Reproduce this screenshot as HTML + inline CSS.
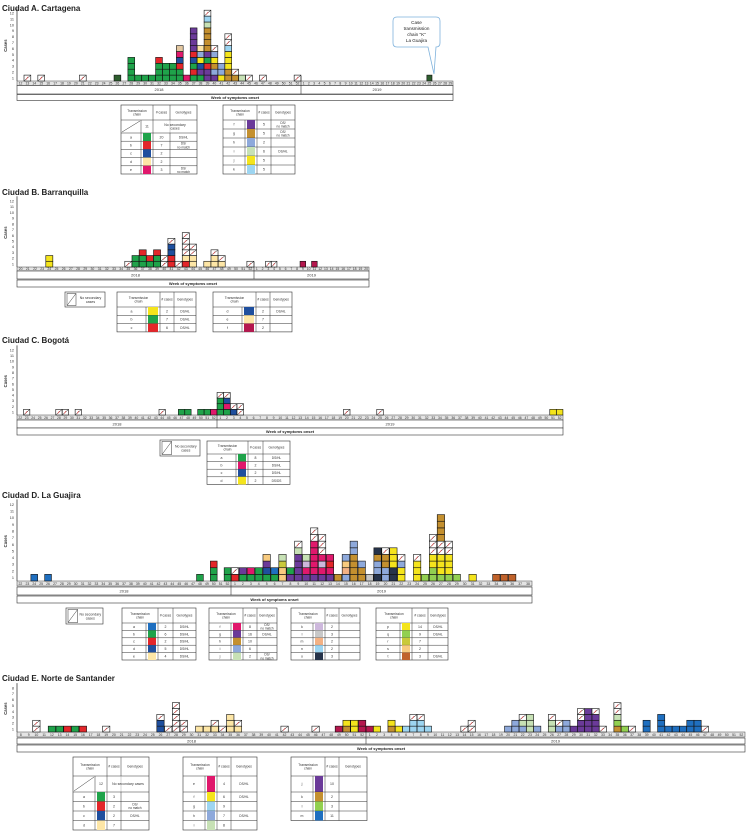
<!DOCTYPE html>
<html><head><meta charset="utf-8"><title>Transmission chains by city</title>
<style>
html,body{margin:0;padding:0;background:#fff;}
svg{display:block;font-family:"Liberation Sans",Arial,sans-serif;}
</style></head>
<body>
<svg id="fig" width="746" height="831" viewBox="0 0 746 831" xmlns="http://www.w3.org/2000/svg">
<rect x="0" y="0" width="746" height="831" fill="#fff"/>
<g>
<path d="M397 17 H436 Q440 17 440 21 V43 Q440 47 436 47 H436 L434 74 L428 47 H397 Q393 47 393 43 V21 Q393 17 397 17 Z" fill="#fff" stroke="#7fb2dc" stroke-width="0.8"/>
<text x="416.5" y="24" font-size="4.6" text-anchor="middle" fill="#222">Case</text>
<text x="416.5" y="30" font-size="4.6" text-anchor="middle" fill="#222">transmission</text>
<text x="416.5" y="36" font-size="4.6" text-anchor="middle" fill="#222">chain "K"</text>
<text x="416.5" y="42" font-size="4.6" text-anchor="middle" fill="#222">La Guajira</text>
</g>
</svg>
<script>
const NS='http://www.w3.org/2000/svg';
const svg=document.getElementById('fig');
const COL={g:'#1fa34a',G:'#2e5e2e',r:'#e3262a',b:'#1f4f9e',B:'#1f6fc0',d:'#fde6a6',p:'#e0186c',c:'#b5174e',f:'#6b3a99',o:'#c4902f',h:'#8ea9db',i:'#c7e1b5',y:'#f4e41c',k:'#9dd5f1',n:'#26334a',s:'#c0622b',l:'#cdb8dc',e:'#c8c8c8',m:'#f4b183',q:'#92d050',v:'#c9c93a',w:'#f8cb7f',t:'#e3c7a0'};
function rng(a,b){const r=[];for(let i=a;i<=b;i++)r.push(String(i));return r;}
function mk(tag,attrs,parent){const e=document.createElementNS(NS,tag);for(const k in attrs)e.setAttribute(k,attrs[k]);(parent||svg).appendChild(e);return e;}

// ---------- Panel A data ----------
const aWeeks18=rng(12,52);
const aWeeks19=rng(1,29);
const aStackYear=[2018,2018,2018,2018,2018,2018,2018,2018,2018,2018,2018,2018,2018,2018,2018,2018,2018,2018,2018,2018,2018,2018,2018,2018,2019];
const aStackWeek=[13,15,21,26,28,29,30,31,32,33,34,35,36,37,38,39,40,41,42,43,44,45,47,52,25];
const aStackCells=['x','x','x','G','gggg','g','g','g','gggr','ggg','ggg','ggrbpt','p','grgbrffff','gfbyhd','ffrgfooooikx','fhoyhx','yhh','ooyyykxx','ox','i','x','x','x','G'];
// ---------- Panel B data ----------
const bWeeks18=rng(20,52);
const bWeeks19=rng(1,20);
const bStackYear=[2018,2018,2018,2018,2018,2018,2018,2018,2018,2018,2018,2018,2018,2018,2018,2019,2019,2019,2019];
const bStackWeek=[24,35,36,37,38,39,40,41,42,43,44,46,47,48,52,3,4,9,11];
const bStackCells=['yy','x','gg','ggr','gr','ggr','xx','rrbbx','x','rdxxxx','ddxx','d','ddx','dx','x','x','x','c','c'];
// ---------- Panel C data ----------
const cWeeks18=rng(22,52);
const cWeeks19=rng(1,52);
const cStackYear=[2018,2018,2018,2018,2018,2018,2018,2018,2018,2018,2019,2019,2019,2019,2019,2019,2019,2019];
const cStackWeek=[23,28,29,31,44,47,48,50,51,52,1,2,3,4,20,25,51,52];
const cStackCells=['x','x','x','x','x','g','g','g','g','p','gggx','gpbx','bx','xx','x','x','y','y'];
// ---------- Panel D data ----------
const dWeeks18=rng(22,52);
const dWeeks19=rng(1,38);
const dStackYear=[2018,2018,2018,2018,2018,2019,2019,2019,2019,2019,2019,2019,2019,2019,2019,2019,2019,2019,2019,2019,2019,2019,2019,2019,2019,2019,2019,2019,2019,2019,2019,2019,2019,2019,2019,2019,2019];
const dStackWeek=[24,26,48,50,52,1,2,3,4,5,6,7,8,9,10,11,12,13,14,15,16,17,18,19,20,21,22,24,25,26,27,28,29,31,34,35,36];
const dStackCells=['B','B','g','ggr','gg','rx','gf','gp','gg','gbfw','gB','wwvi','fg','ffffix','fpli','fpppppxx','fplpxxx','fprp','o','hmwh','oooohh','ooh','e','nhhon','hhoox','nnyyy','yyhx','yyyx','q','qqyyxxx','qyyyxxoooo','qyyyxx','q','y','s','s','s'];
// ---------- Panel E data ----------
const eWeeks18=rng(8,52);
const eWeeks19=rng(1,52);
const eStackYear=[2018,2018,2018,2018,2018,2018,2018,2018,2018,2018,2018,2018,2018,2018,2018,2018,2018,2018,2018,2018,2018,2018,2018,
2019,2019,2019,2019,2019,2019,2019,2019,2019,2019,2019,2019,2019,2019,2019,2019,2019,2019,2019,2019,2019,2019,2019,2019,2019,2019,2019,2019,2019,2019,2019,2019];
const eStackWeek=[10,12,13,14,15,16,19,26,27,28,29,31,32,33,34,35,36,42,46,49,50,51,52,
1,2,4,5,6,7,8,9,14,15,20,21,22,23,24,26,27,28,29,30,31,32,33,35,36,37,39,41,42,43,44,45,46,47];
const eStackCells=['xx','g','g','r','g','r','x','bbx','x','xxxxx','xx','d','d','dx','x','ddd','dx','x','x','c','oy','yy','cc',
'c','y','oy','y','k','kkx','kkx','k','x','xx','h','hh','hix','iii','h','iix','hx','hh','f','ffxx','ffff','fffx','x','oqixx','q','x','BB','BBB','B','B','B','BB','BB','x'];

const panels=[
 {key:'a',title:'Ciudad A. Cartagena',ty:11,x0:17,xb:301,x1:453,base:81,unit:5.9,ymax:12,tk:[81,85.5],yr:[85.5,94],wk:[94.5,100.5],w18:aWeeks18,w19:aWeeks19,sy:aStackYear,sw:aStackWeek,sc:aStackCells},
 {key:'b',title:'Ciudad B. Barranquilla',ty:195,x0:17,xb:254,x1:369,base:267,unit:5.73,ymax:12,tk:[267,271],yr:[271,279],wk:[280,287],w18:bWeeks18,w19:bWeeks19,sy:bStackYear,sw:bStackWeek,sc:bStackCells},
 {key:'c',title:'Ciudad C. Bogotá',ty:343,x0:17,xb:217,x1:563,base:415,unit:5.64,ymax:12,tk:[415,420],yr:[420,428],wk:[428,435],w18:cWeeks18,w19:cWeeks19,sy:cStackYear,sw:cStackWeek,sc:cStackCells},
 {key:'d',title:'Ciudad D. La Guajira',ty:498,x0:17,xb:231,x1:532,base:581,unit:6.64,ymax:12,tk:[581,586],yr:[587,595],wk:[596,603],w18:dWeeks18,w19:dWeeks19,sy:dStackYear,sw:dStackWeek,sc:dStackCells},
 {key:'e',title:'Ciudad E. Norte de Santander',ty:681,x0:17,xb:366,x1:745,base:732,unit:5.86,ymax:8,tk:[732,737],yr:[738,744],wk:[745,752],w18:eWeeks18,w19:eWeeks19,sy:eStackYear,sw:eStackWeek,sc:eStackCells}
];

function drawCell(g,x,y,w,h,code){
  if(code==='x'){
    const r=mk('rect',{x:x,y:y,width:w,height:h,fill:'#fff',stroke:'#111','stroke-width':0.6},g);
    
    
    const l=mk('line',{x1:x+0.4,y1:y+h-0.4,x2:x+w-0.4,y2:y+0.4,stroke:'#111','stroke-width':0.5},g);
    
    
    const l2=mk('line',{x1:x+w*0.3,y1:y+h*0.75,x2:x+w*0.6,y2:y+h*0.3,stroke:'#d33','stroke-width':0.6},g);
    
    
  }else{
    const r=mk('rect',{x:x,y:y,width:w,height:h,fill:COL[code]||'#999',stroke:'#111','stroke-width':0.6},g);
    
    
  }
}

panels.forEach(P=>{
  const g=mk('g',{});
  
  
  const t=mk('text',{x:2,y:P.ty,'font-size':8,'font-weight':'bold',fill:'#222'},g);
  t.textContent=P.title;
  
  
  const cw18=(P.xb-P.x0)/P.w18.length, cw19=(P.x1-P.xb)/P.w19.length;
  const xOf=(yr,wk)=>yr===2018?P.x0+(P.w18.indexOf(String(wk))+0.5)*cw18:P.xb+(P.w19.indexOf(String(wk))+0.5)*cw19;
  const yOf=v=>P.base-v*P.unit;
  const ax=mk('line',{x1:P.x0,y1:P.base,x2:P.x0,y2:yOf(P.ymax)-2,stroke:'#222','stroke-width':0.7},g);
  
  
  for(let v=1;v<=P.ymax;v++){
    const tl=mk('text',{x:P.x0-3,y:yOf(v-0.5)+1.3,'font-size':3.8,'text-anchor':'end',fill:'#333'},g);
    tl.textContent=v;
    
    
  }
  const yt=mk('text',{x:0,y:0,'font-size':4.2,'font-weight':'bold','text-anchor':'middle',fill:'#333',transform:`translate(7,${(P.base+yOf(P.ymax))/2}) rotate(-90)`},g);
  yt.textContent='Cases';
  
  
  const tr=mk('rect',{x:P.x0,y:P.tk[0],width:P.x1-P.x0,height:P.tk[1]-P.tk[0],fill:'#e4e4e4',stroke:'#444','stroke-width':0.5},g);
  
  
  const fs18=Math.min(3.4,cw18*0.55+0.6), fs19=Math.min(3.4,cw19*0.55+0.6);
  P.w18.forEach(w=>{const tx=mk('text',{x:xOf(2018,w),y:P.tk[1]-1,'font-size':fs18,'text-anchor':'middle',fill:'#333'},g);tx.textContent=w;
    
    });
  P.w19.forEach(w=>{const tx=mk('text',{x:xOf(2019,w),y:P.tk[1]-1,'font-size':fs19,'text-anchor':'middle',fill:'#333'},g);tx.textContent=w;
    
    });
  const yr=mk('rect',{x:P.x0,y:P.yr[0],width:P.x1-P.x0,height:P.yr[1]-P.yr[0],fill:'#fff',stroke:'#333','stroke-width':0.6},g);
  
  
  const dv=mk('line',{x1:P.xb,y1:P.tk[0]-5,x2:P.xb,y2:P.yr[1],stroke:'#333','stroke-width':0.6},g);
  
  
  [['2018',(P.x0+P.xb)/2],['2019',(P.xb+P.x1)/2]].forEach(([s,x])=>{
    const tx=mk('text',{x:x,y:(P.yr[0]+P.yr[1])/2+1.4,'font-size':4,'text-anchor':'middle',fill:'#333'},g);tx.textContent=s;
    
    
  });
  const wr=mk('rect',{x:P.x0,y:P.wk[0],width:P.x1-P.x0,height:P.wk[1]-P.wk[0],fill:'#fff',stroke:'#333','stroke-width':0.6},g);
  
  
  const wt=mk('text',{x:(P.x0+P.x1)/2,y:(P.wk[0]+P.wk[1])/2+1.4,'font-size':4,'font-weight':'bold','text-anchor':'middle',fill:'#222'},g);
  wt.textContent='Week of symptoms onset';
  
  
  for(let j=0;j<P.sc.length;j++){
    const sg=mk('g',{},g);
    
    
    const xc=xOf(P.sy[j],P.sw[j]);
    const bw=Math.min(P.sy[j]===2018?cw18:cw19,7.5)*0.98;
    const cells=P.sc[j];
    for(let k=0;k<cells.length;k++){
      drawCell(sg,xc-bw/2,yOf(k+1),bw,P.unit,cells[k]);
    }
  }
});

function hatchBox(x,y,w,h){
  const g=mk('g',{});
  
  
  const r=mk('rect',{x:x,y:y,width:w,height:h,fill:'#fff',stroke:'#333','stroke-width':0.6},g);
  
  
  const sw=h*0.6;
  const s=mk('rect',{x:x+2,y:y+1.5,width:sw,height:h-3,fill:'#fff',stroke:'#333','stroke-width':0.5},g);
  
  
  const l=mk('line',{x1:x+2,y1:y+h-1.5,x2:x+2+sw,y2:y+1.5,stroke:'#333','stroke-width':0.5},g);
  
  
  const t1=mk('text',{x:x+(w+sw)/2+1,y:y+h/2-0.5,'font-size':3.5,'text-anchor':'middle',fill:'#333'},g);t1.textContent='No secondary';
  
  
  const t2=mk('text',{x:x+(w+sw)/2+1,y:y+h/2+3.5,'font-size':3.5,'text-anchor':'middle',fill:'#333'},g);t2.textContent='cases';
  
  
}
function txt(g,x,y,s,fs){const t=mk('text',{x:x,y:y,'font-size':fs||3.5,'text-anchor':'middle',fill:'#333'},g);t.textContent=s;
  
  return t;}
function multi(g,x,yc,s,fs){const parts=s.split('|');const lh=(fs||3.5)*1.1;parts.forEach((p,i)=>txt(g,x,yc+1.2+(i-(parts.length-1)/2)*lh,p,fs));}
function table(x,y,cw,headH,rows){
  const g=mk('g',{});
  
  
  const W=cw[0]+cw[1]+cw[2]+cw[3];
  const cx=[x,x+cw[0],x+cw[0]+cw[1],x+cw[0]+cw[1]+cw[2],x+W];
  let H=headH;rows.forEach(r=>H+=r.h);
  const o=mk('rect',{x:x,y:y,width:W,height:H,fill:'#fff',stroke:'#333','stroke-width':0.6},g);
  
  
  multi(g,(cx[0]+cx[2])/2,y+headH/2,'Transmission|chain',3.3);
  txt(g,(cx[2]+cx[3])/2,y+headH/2+1.2,'# cases',3.3);
  txt(g,(cx[3]+cx[4])/2,y+headH/2+1.2,'Genotypes',3.3);
  mk('line',{x1:cx[2],y1:y,x2:cx[2],y2:y+H,stroke:'#333','stroke-width':0.5},g);
  mk('line',{x1:cx[3],y1:y,x2:cx[3],y2:y+H,stroke:'#333','stroke-width':0.5},g);
  let yy=y+headH;
  rows.forEach(r=>{
    mk('line',{x1:x,y1:yy,x2:x+W,y2:yy,stroke:'#333','stroke-width':0.5},g);
    if(r.hatch){
      mk('line',{x1:cx[1],y1:yy,x2:cx[1],y2:yy+r.h,stroke:'#333','stroke-width':0.5},g);
      mk('line',{x1:x+1,y1:yy+r.h-1,x2:cx[1]-1,y2:yy+1,stroke:'#333','stroke-width':0.5},g);
      txt(g,(cx[1]+cx[2])/2,yy+r.h/2+1.2,r.count);
      const cover=mk('rect',{x:cx[3]-0.3,y:yy+0.3,width:0.6,height:r.h-0.6,fill:'#fff'},g);
      
      
      multi(g,(cx[2]+cx[4])/2,yy+r.h/2,r.text);
    }else{
      mk('line',{x1:cx[1],y1:yy,x2:cx[1],y2:yy+r.h,stroke:'#333','stroke-width':0.5},g);
      txt(g,(cx[0]+cx[1])/2,yy+r.h/2+1.2,r.chain);
      const sw=mk('rect',{x:cx[1]+2,y:yy,width:cw[1]-4,height:r.h,fill:COL[r.color],stroke:'none'},g);
      
      
      txt(g,(cx[2]+cx[3])/2,yy+r.h/2+1.2,r.cases);
      if(r.geno)multi(g,(cx[3]+cx[4])/2,yy+r.h/2,r.geno,3.2);
    }
    yy+=r.h;
  });
}
const R=(chain,color,cases,geno,h)=>({chain,color,cases,geno,h});
table(121,105,[20,12,17,27],15,[{hatch:true,count:'11',text:'No secondary|cases',h:13},R('a','g','20','DS/HL',8.2),R('b','r','7','DS/|no match',8.2),R('c','b','2','',8.2),R('d','d','2','',8.2),R('e','p','3','DS/|no match',8.2)]);
table(223,105,[22,12,14,24],15,[R('f','f','5','DS/|no match',9),R('g','o','5','DS/|no match',9),R('h','h','2','',9),R('i','i','6','DS/HL',9),R('j','y','5','',9),R('k','k','5','',9)]);
hatchBox(65,292,40,15);
table(117,292,[29,14,14,22],15,[R('a','y','2','DS/HL',8.3),R('b','g','7','DS/HL',8.3),R('c','r','6','DS/HL',8.3)]);
table(213,292,[29,14,14,22],15,[R('d','b','2','DS/HL',8.3),R('e','d','7','',8.3),R('f','c','2','',8.3)]);
hatchBox(160,440,40,16);
table(207,441,[29,12,15,27],13,[R('a','g','8','DS/HL',7.6),R('b','p','2','DS/HL',7.6),R('c','b','2','DS/HL',7.6),R('d','y','2','DS/DS',7.6)]);
hatchBox(66,608,37,16);
table(122,608,[24,12,15,23],15,[R('a','B','2','DS/HL',7.4),R('b','g','6','DS/HL',7.4),R('c','r','2','DS/HL',7.4),R('d','b','5','DS/HL',7.4),R('e','d','4','DS/HL',7.4)]);
table(209,608,[22,12,14,20],15,[R('f','p','8','DS/|no match',7.4),R('g','f','16','DS/HL',7.4),R('h','o','10','',7.4),R('i','h','6','',7.4),R('j','i','2','DS/|no match',7.4)]);
table(291,608,[22,12,14,21],15,[R('k','l','2','',7.4),R('l','e','3','',7.4),R('m','m','2','',7.4),R('n','k','2','',7.4),R('o','n','3','',7.4)]);
table(376,608,[24,12,16,20],15,[R('p','y','14','DS/HL',7.4),R('q','q','9','DS/HL',7.4),R('r','v','7','',7.4),R('s','w','2','',7.4),R('t','s','3','DS/HL',7.4)]);
table(73,757,[22,12,14,28],19,[{hatch:true,count:'12',text:'No secondary cases',h:16},R('a','g','3','',9.5),R('b','r','2','DS/|no match',9.5),R('c','b','2','DS/HL',9.5),R('d','d','7','',9.5)]);
table(183,757,[22,12,14,26],19,[R('e','p','4','DS/HL',16),R('f','y','6','DS/HL',9.5),R('g','k','9','',9.5),R('h','h','7','DS/HL',9.5),R('i','i','8','',9.5)]);
table(291,757,[22,12,14,28],19,[R('j','f','10','',16),R('k','o','2','',9.5),R('l','q','3','',9.5),R('m','B','11','',9.5)]);
</script>
</body></html>
